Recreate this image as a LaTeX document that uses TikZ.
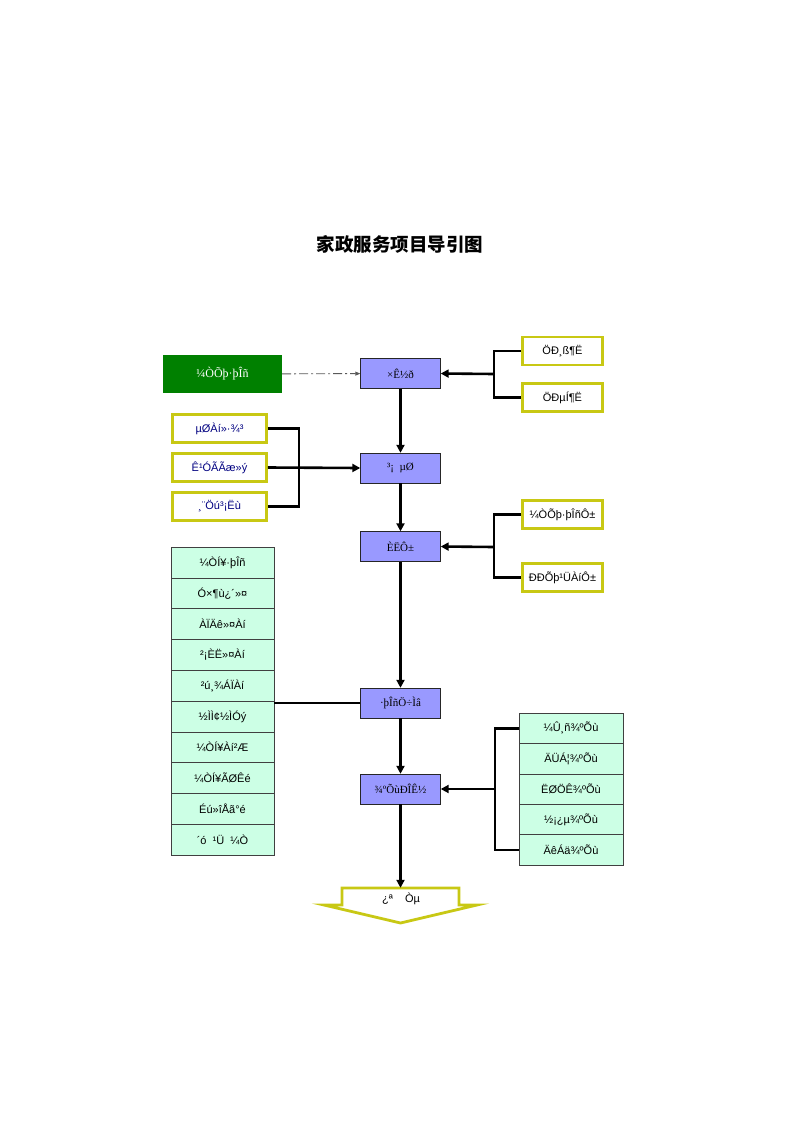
\documentclass[tikz,border=0pt]{standalone}
\usepackage{fontspec}
\usepackage{xcolor}
\usepackage{tikz}
\usetikzlibrary{arrows.meta}
\setmainfont{Liberation Sans}
\newfontfamily\serifrm{Liberation Serif}
\newfontfamily\cjk{Noto Sans CJK SC}

\definecolor{stageblue}{RGB}{153,153,255}
\definecolor{tagyellow}{RGB}{200,200,20}
\definecolor{listmint}{RGB}{204,255,229}
\definecolor{sourcegreen}{RGB}{0,128,0}
\definecolor{navytext}{RGB}{0,0,128}

\begin{document}
\begin{tikzpicture}[x=1pt,y=-1pt,
  stage/.style={rectangle,draw=black!85,fill=stageblue,minimum width=80pt,minimum height=30pt,font=\serifrm\fontsize{11}{13}\selectfont},
  source/.style={rectangle,fill=sourcegreen,text=white,minimum width=119pt,minimum height=38pt,font=\serifrm\fontsize{12}{14}\selectfont},
  tagl/.style={rectangle,draw=tagyellow,line width=2.8pt,minimum width=94pt,minimum height=28pt,text=navytext,font=\fontsize{11}{13}\selectfont},
  tagr/.style={rectangle,draw=tagyellow,line width=2.8pt,minimum width=80pt,minimum height=28pt,font=\fontsize{11}{13}\selectfont},
  item/.style={rectangle,draw=black!75,fill=listmint,minimum width=103pt,minimum height=30.8pt,font=\fontsize{11}{13}\selectfont},
  ritem/.style={item,minimum width=104pt,minimum height=30.4pt},
  line/.style={-,line width=2.6pt},
  arrow/.style={-{Triangle[length=8pt,width=8pt]},line width=2.6pt},
  link/.style={-{Triangle[length=5pt,width=4pt]},draw=black!65,line width=0.9pt,dash pattern=on 9pt off 3pt on 2pt off 3pt}
]
\useasboundingbox (0,0) rectangle (800,1132);

\node (title) at (400,244) {\cjk\bfseries\fontsize{18.5}{22}\selectfont 家政服务项目导引图};

% main column
\node[source] (home) at (222.5,374) {¼ÒÕþ·þÎñ};
\node[stage] (fund) at (400.5,373.5) {×Ê½ð};
\node[stage] (site) at (400.5,468) {³¡\ \ µØ};
\node[stage] (staff) at (400.5,546.5) {ÈËÔ±};
\node[stage] (theme) at (400.5,703) {·þÎñÖ÷Ìâ};
\node[stage] (form) at (400.5,789) {¾ºÕùÐÎÊ½};
\node[minimum width=117pt,minimum height=17pt] (open) at (400.5,896.5) {};

% tags
\node[tagr] (high) at (562.5,351) {ÖÐ¸ß¶Ë};
\node[tagr] (low) at (562.5,397.5) {ÖÐµÍ¶Ë};
\node[tagl] (geo) at (219.5,428.5) {µØÀí»·¾³};
\node[tagl] (area) at (219.5,467.5) {Ê¹ÓÃÃæ»ý};
\node[tagl] (aux) at (219.5,506.5) {¸¨Öú³¡Ëù};
\node[tagr] (worker) at (562.5,514.5) {¼ÒÕþ·þÎñÔ±};
\node[tagr] (admin) at (562.5,577.5) {ÐÐÕþ¹ÜÀíÔ±};

% service list
\node[item] (care1) at (222.5,562.4) {¼ÒÍ¥·þÎñ};
\node[item] (care2) at (222.5,593.2) {Ó×¶ù¿´»¤};
\node[item] (care3) at (222.5,624) {ÀÏÄê»¤Àí};
\node[item] (care4) at (222.5,654.8) {²¡ÈË»¤Àí};
\node[item] (care5) at (222.5,685.6) {²ú¸¾ÁÏÀí};
\node[item] (care6) at (222.5,716.4) {½ÌÌ¢½ÌÓý};
\node[item] (care7) at (222.5,747.2) {¼ÒÍ¥Àí²Æ};
\node[item] (care8) at (222.5,778) {¼ÒÍ¥ÃØÊé};
\node[item] (care9) at (222.5,808.8) {Éú»îÅã°é};
\node[item] (care10) at (222.5,839.6) {´ó\ \ ¹Ü\ \ ¼Ò};

% competition list
\node[ritem] (price) at (571,728.2) {¼Û¸ñ¾ºÕù};
\node[ritem] (ability) at (571,758.6) {ÄÜÁ¦¾ºÕù};
\node[ritem] (quality) at (571,789) {ËØÖÊ¾ºÕù};
\node[ritem] (health) at (571,819.4) {½¡¿µ¾ºÕù};
\node[ritem] (age) at (571,849.8) {ÄêÁä¾ºÕù};

\draw[tagyellow,line width=2.8pt,fill=white] (342,888) -- (459,888) -- (459,905) -- (477,905)
  -- (400.5,923) -- (324,905) -- (342,905) -- cycle;
\node (opentext) at (401,899) {\fontsize{11}{13}\selectfont ¿ª\ \ \ \ Òµ};

\coordinate (fundjoin) at (494,374);
\coordinate (sitejoin) at (299,467.5);
\coordinate (staffjoin) at (494,547);
\coordinate (formjoin) at (495,789);

\draw[link] (home) -- (fund);
\draw[line] (high.west) -| (fundjoin) |- (low.west);
\draw[arrow] (fundjoin) -- (fund.east);
\draw[arrow] (fund) -- (site);
\draw[line] (geo.east) -| (sitejoin) |- (aux.east);
\draw[arrow] (area.east) -- (site.west);
\draw[arrow] (site) -- (staff);
\draw[line] (worker.west) -| (staffjoin) |- (admin.west);
\draw[arrow] (staffjoin) -- (staff.east);
\draw[arrow] (staff) -- (theme);
\draw[line] (theme.west) -- (theme.west -| care6.east);
\draw[arrow] (theme) -- (form);
\draw[line] (price.west) -| (formjoin) |- (age.west);
\draw[arrow] (formjoin) -- (form.east);
\draw[arrow] (form) -- (open.north);

\end{tikzpicture}
\end{document}
